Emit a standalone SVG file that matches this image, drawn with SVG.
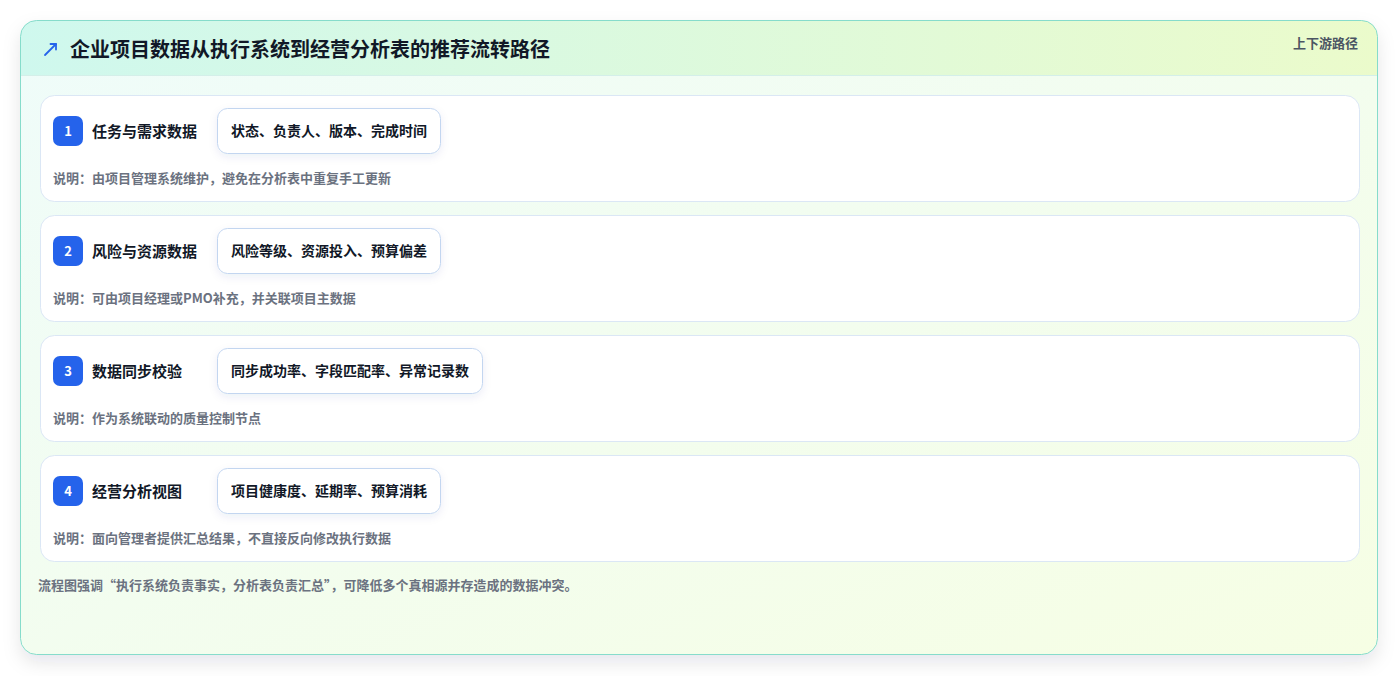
<svg xmlns="http://www.w3.org/2000/svg" width="1399" height="676" viewBox="0 0 1399 676">
  <defs>
    <linearGradient id="hdr" x1="0" y1="0" x2="1" y2="0">
      <stop offset="0" stop-color="#cff8ee"/>
      <stop offset="1" stop-color="#ebfbcb"/>
    </linearGradient>
    <linearGradient id="body" x1="0" y1="0" x2="1" y2="1">
      <stop offset="0" stop-color="#effcfa"/>
      <stop offset="1" stop-color="#f6fee4"/>
    </linearGradient>
    <clipPath id="cardClip">
      <rect x="20.5" y="20.5" width="1357" height="634" rx="16"/>
    </clipPath>
    <filter id="cardShadow" x="-5%" y="-5%" width="110%" height="115%">
      <feDropShadow dx="0" dy="8" stdDeviation="9" flood-color="#0f172a" flood-opacity="0.10"/>
    </filter>
    <filter id="chipShadow" x="-10%" y="-20%" width="120%" height="160%">
      <feDropShadow dx="0" dy="3" stdDeviation="4" flood-color="#1e3a8a" flood-opacity="0.08"/>
    </filter>
  </defs>
  <style>
    text { font-family: "Noto Sans CJK SC", "Noto Sans", sans-serif; }
    .row { fill: #ffffff; stroke: #dbe7f5; stroke-width: 1; }
    .badge { fill: #2563eb; }
    .num { fill: #ffffff; font-size: 13px; font-weight: 700; text-anchor: middle; }
    .label { fill: #111827; font-size: 15px; font-weight: 700; }
    .chip { fill: #ffffff; stroke: #c3d6f0; stroke-width: 1; }
    .chiptext { fill: #111827; font-size: 14px; font-weight: 700; }
    .note { fill: #6b7280; font-size: 13px; font-weight: 700; }
  </style>
  <rect width="1399" height="676" fill="#ffffff"/>
  <g id="card">
    <rect x="20.5" y="20.5" width="1357" height="634" rx="16" fill="url(#body)" filter="url(#cardShadow)"/>
    <g clip-path="url(#cardClip)">
      <rect x="20" y="20" width="1358" height="55" fill="url(#hdr)"/>
      <line x1="20" y1="75.5" x2="1378" y2="75.5" stroke="#d4efe9" stroke-width="1"/>
    </g>
    <rect x="20.5" y="20.5" width="1357" height="634" rx="16" fill="none" stroke="#86dccb" stroke-width="1"/>
  </g>
  <g id="title">
    <g stroke="#2563eb" stroke-width="1.8" fill="none" stroke-linecap="round" stroke-linejoin="round">
      <line x1="45" y1="55" x2="56" y2="44"/>
      <polyline points="50.5,44 56,44 56,49.5"/>
    </g>
    <text x="70" y="57" font-size="20" font-weight="700" fill="#111827">企业项目数据从执行系统到经营分析表的推荐流转路径</text>
    <text x="1358" y="48" font-size="13" font-weight="700" fill="#4b5563" text-anchor="end">上下游路径</text>
  </g>
  <g id="connectors"></g>
  <g id="node1">
    <rect class="row" x="40.5" y="95.5" width="1319" height="106" rx="14"/>
    <rect class="badge" x="53" y="116" width="30" height="30" rx="7"/>
    <text class="num" x="68" y="135.5">1</text>
    <text class="label" x="92" y="136.5">任务与需求数据</text>
    <rect class="chip" x="217.5" y="108.5" width="223" height="45" rx="10" filter="url(#chipShadow)"/>
    <text class="chiptext" x="231" y="135.5">状态、负责人、版本、完成时间</text>
    <text class="note" x="53" y="183">说明：由项目管理系统维护，避免在分析表中重复手工更新</text>
  </g>
  <g id="node2">
    <rect class="row" x="40.5" y="215.5" width="1319" height="106" rx="14"/>
    <rect class="badge" x="53" y="236" width="30" height="30" rx="7"/>
    <text class="num" x="68" y="255.5">2</text>
    <text class="label" x="92" y="256.5">风险与资源数据</text>
    <rect class="chip" x="217.5" y="228.5" width="223" height="45" rx="10" filter="url(#chipShadow)"/>
    <text class="chiptext" x="231" y="255.5">风险等级、资源投入、预算偏差</text>
    <text class="note" x="53" y="303">说明：可由项目经理或PMO补充，并关联项目主数据</text>
  </g>
  <g id="node3">
    <rect class="row" x="40.5" y="335.5" width="1319" height="106" rx="14"/>
    <rect class="badge" x="53" y="356" width="30" height="30" rx="7"/>
    <text class="num" x="68" y="375.5">3</text>
    <text class="label" x="92" y="376.5">数据同步校验</text>
    <rect class="chip" x="217.5" y="348.5" width="265" height="45" rx="10" filter="url(#chipShadow)"/>
    <text class="chiptext" x="231" y="375.5">同步成功率、字段匹配率、异常记录数</text>
    <text class="note" x="53" y="423">说明：作为系统联动的质量控制节点</text>
  </g>
  <g id="node4">
    <rect class="row" x="40.5" y="455.5" width="1319" height="106" rx="14"/>
    <rect class="badge" x="53" y="476" width="30" height="30" rx="7"/>
    <text class="num" x="68" y="495.5">4</text>
    <text class="label" x="92" y="496.5">经营分析视图</text>
    <rect class="chip" x="217.5" y="468.5" width="223" height="45" rx="10" filter="url(#chipShadow)"/>
    <text class="chiptext" x="231" y="495.5">项目健康度、延期率、预算消耗</text>
    <text class="note" x="53" y="543">说明：面向管理者提供汇总结果，不直接反向修改执行数据</text>
  </g>
  <g id="footer">
    <text class="note" x="38" y="590">流程图强调“执行系统负责事实，分析表负责汇总”，可降低多个真相源并存造成的数据冲突。</text>
  </g>
</svg>
